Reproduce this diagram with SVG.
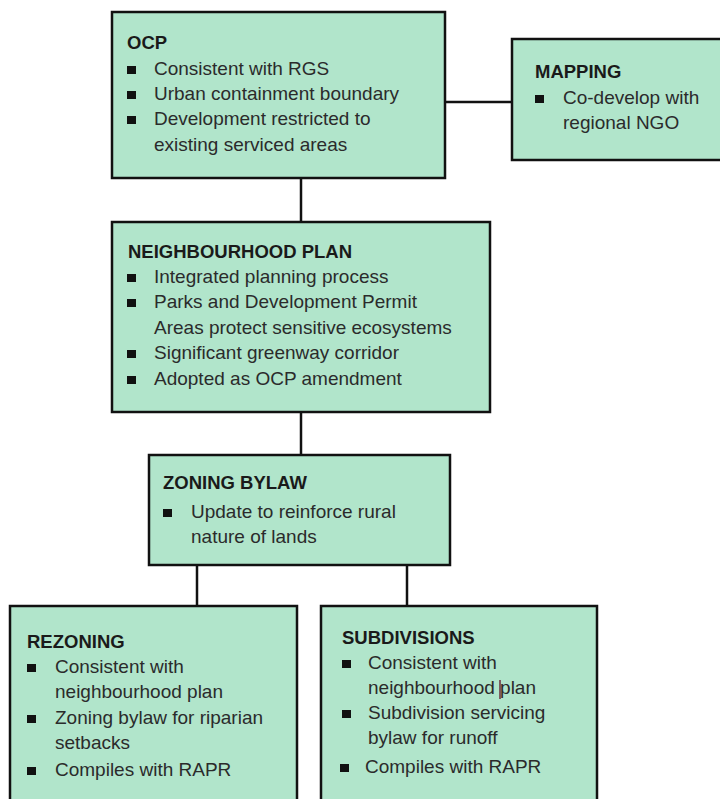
<svg xmlns="http://www.w3.org/2000/svg" width="720" height="799" viewBox="0 0 720 799">
<style>
.box{fill:#b1e5cb;stroke:#111;stroke-width:2.5}
.t{font-family:"Liberation Sans",Arial,sans-serif;font-size:18.5px;font-weight:bold;fill:#1a1a1a}
.i{font-family:"Liberation Sans",Arial,sans-serif;font-size:19px;fill:#2b2b2b}
.b{fill:#111}
.c{stroke:#111;stroke-width:2.5;fill:none}
</style>
<rect width="720" height="799" fill="#fff"/>
<g id="connectors">
<line class="c" x1="445" y1="102" x2="512" y2="102"/>
<line class="c" x1="301" y1="178" x2="301" y2="222"/>
<line class="c" x1="301" y1="412" x2="301" y2="455"/>
<line class="c" x1="197" y1="565" x2="197" y2="606"/>
<line class="c" x1="407" y1="565" x2="407" y2="606"/>
</g>
<g id="ocp">
<rect class="box" x="112" y="12" width="333" height="166"/>
<text class="t" x="127" y="49">OCP</text>
<rect class="b" x="127" y="66" width="9" height="8"/>
<rect class="b" x="127" y="91" width="9" height="8"/>
<rect class="b" x="127" y="116" width="9" height="8"/>
<text class="i" x="154" y="75">Consistent with RGS</text>
<text class="i" x="154" y="100">Urban containment boundary</text>
<text class="i" x="154" y="125">Development restricted to</text>
<text class="i" x="154" y="151">existing serviced areas</text>
</g>
<g id="mapping">
<rect class="box" x="512" y="39" width="220" height="121"/>
<text class="t" x="535" y="78">MAPPING</text>
<rect class="b" x="535" y="95" width="9" height="8"/>
<text class="i" x="563" y="104">Co-develop with</text>
<text class="i" x="563" y="129">regional NGO</text>
</g>
<g id="neighbourhood-plan">
<rect class="box" x="112" y="222" width="378" height="190"/>
<text class="t" x="128" y="258">NEIGHBOURHOOD PLAN</text>
<rect class="b" x="127" y="274" width="9" height="8"/>
<rect class="b" x="127" y="299" width="9" height="8"/>
<rect class="b" x="127" y="350" width="9" height="8"/>
<rect class="b" x="127" y="376" width="9" height="8"/>
<text class="i" x="154" y="283">Integrated planning process</text>
<text class="i" x="154" y="308">Parks and Development Permit</text>
<text class="i" x="154" y="334">Areas protect sensitive ecosystems</text>
<text class="i" x="154" y="359">Significant greenway corridor</text>
<text class="i" x="154" y="385">Adopted as OCP amendment</text>
</g>
<g id="zoning-bylaw">
<rect class="box" x="149" y="455" width="301" height="110"/>
<text class="t" x="163" y="489">ZONING BYLAW</text>
<rect class="b" x="163" y="509" width="9" height="8"/>
<text class="i" x="191" y="518">Update to reinforce rural</text>
<text class="i" x="191" y="543">nature of lands</text>
</g>
<g id="rezoning">
<rect class="box" x="10" y="606" width="287" height="210"/>
<text class="t" x="27" y="648">REZONING</text>
<rect class="b" x="27" y="664" width="9" height="8"/>
<rect class="b" x="27" y="715" width="9" height="8"/>
<rect class="b" x="27" y="767" width="9" height="8"/>
<text class="i" x="55" y="673">Consistent with</text>
<text class="i" x="55" y="698">neighbourhood plan</text>
<text class="i" x="55" y="724">Zoning bylaw for riparian</text>
<text class="i" x="55" y="749">setbacks</text>
<text class="i" x="55" y="776">Compiles with RAPR</text>
</g>
<g id="subdivisions">
<rect class="box" x="321" y="606" width="276" height="210"/>
<text class="t" x="342" y="644">SUBDIVISIONS</text>
<rect class="b" x="342" y="660" width="9" height="8"/>
<rect class="b" x="342" y="710" width="9" height="8"/>
<rect class="b" x="340" y="764" width="9" height="8"/>
<text class="i" x="368" y="669">Consistent with</text>
<text class="i" x="368" y="694">neighbourhood plan</text>
<text class="i" x="368" y="719">Subdivision servicing</text>
<text class="i" x="368" y="744">bylaw for runoff</text>
<text class="i" x="365" y="773">Compiles with RAPR</text>
<line x1="500" y1="680" x2="500" y2="699" stroke="#6b2b3b" stroke-width="1.5"/>
</g>
</svg>
